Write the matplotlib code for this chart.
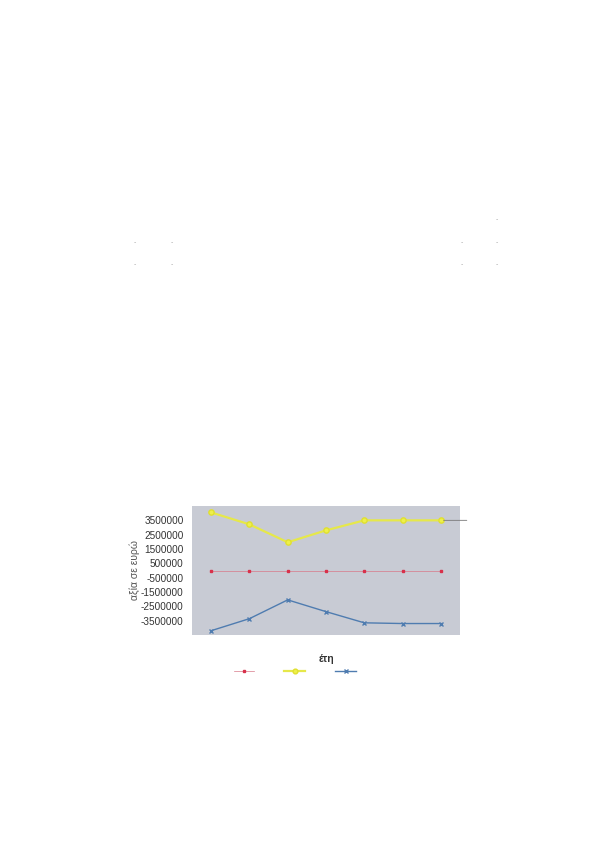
import matplotlib
matplotlib.use("Agg")
import matplotlib.pyplot as plt
import numpy as np

plt.rcParams['font.family'] = ['Liberation Sans Narrow', 'Liberation Sans', 'DejaVu Sans']

# data
years = ["1", "2", "3", "4", "5", "6", "7"]
series_red = [0, 0, 0, 0, 0, 0, 0]
series_yellow = [4050000, 3220000, 1970000, 2800000, 3500000, 3500000, 3500000]
series_blue = [-4200000, -3360000, -2050000, -2870000, -3650000, -3700000, -3700000]
yticks = [-3500000, -2500000, -1500000, -500000, 500000, 1500000, 2500000, 3500000]
ylabel = "αξία σε ευρώ"
xlabel = "έτη"

W, H = 591, 848
fig = plt.figure(figsize=(W / 100, H / 100), dpi=100)
fig.patch.set_facecolor("white")

left, right, top, bottom = 192, 460, 506, 635
ax = fig.add_axes([left / W, 1 - bottom / H, (right - left) / W, (bottom - top) / H])
ax.set_facecolor("#c8cbd4")

x = np.arange(len(years))
ax.plot(x, series_red, color="#d87888", lw=0.5, marker="s", ms=2,
        mfc="#d8304a", mec="#d8304a", label=" ", zorder=3)
ax.plot(x, series_yellow, color="#e6e84a", lw=1.6, marker="o", ms=3.8,
        mfc="#eef04a", mec="#e0e030", label=" ", zorder=3)
ax.plot(x, series_blue, color="#4f7cb0", lw=1.0, marker="x", ms=3.5,
        mec="#4f7cb0", label=" ", zorder=3)

ax.set_xlim(-0.5, len(years) - 0.5)
ax.set_ylim(-4500000, 4500000)
ax.set_yticks(yticks)
ax.set_yticklabels([str(v) for v in yticks], fontsize=7.2, color="#333333")
ax.set_xticks(x)
ax.set_xticklabels([])
ax.tick_params(axis="both", length=0, pad=6)
for s in ax.spines.values():
    s.set_visible(False)

# thin line extending right of last yellow point
ax.annotate("", xy=(len(years) - 0.5 + 0.25, series_yellow[-1]),
            xytext=(len(years) - 1, series_yellow[-1]),
            arrowprops=dict(arrowstyle="-", color="#777777", lw=0.6),
            annotation_clip=False)

ax.set_xlabel(xlabel, fontsize=7.5, color="#333333", fontweight="bold", labelpad=8)
ax.set_ylabel(ylabel, fontsize=7.5, color="#555555", va="center")
ax.yaxis.set_label_coords((135 - left) / (right - left), 0.5)

handles, labels = ax.get_legend_handles_labels()
fig.legend(handles, ["", "", ""], loc="center", ncol=3,
           bbox_to_anchor=(296 / W, 1 - 672 / H), frameon=False,
           handlelength=2.5, columnspacing=3.3, handletextpad=0.3, fontsize=6,
           markerscale=0.9)

# faint scan marks on the page
for (px, py) in [(135, 243), (172, 243), (135, 265), (172, 265),
                 (462, 243), (497, 243), (462, 265), (497, 265), (497, 220)]:
    fig.text(px / W, 1 - py / H, "-", fontsize=5, color="#aaaaaa",
             ha="center", va="center")

fig.savefig("out.png", dpi=100, facecolor="white")
